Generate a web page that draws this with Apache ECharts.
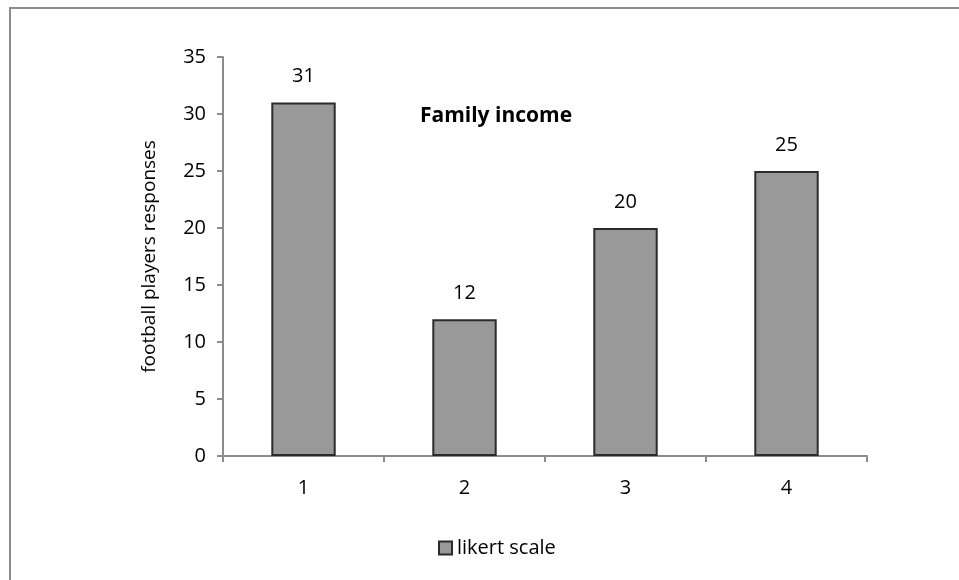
<!DOCTYPE html>
<html>
<head>
<meta charset="utf-8">
<script src="https://cdn.jsdelivr.net/npm/echarts@6/dist/echarts.min.js"></script>
<style>
  html, body { margin: 0; padding: 0; background: #fff; }
  #chart { width: 959px; height: 580px; }
</style>
</head>
<body>
<div id="chart"></div>
<script>
// Survey responses on the likert scale
const categories = ['1', '2', '3', '4'];
const responses = [31, 12, 20, 25];
const yTicks = [0, 5, 10, 15, 20, 25, 30, 35];

const FONT = "'Open Sans', 'Noto Sans', sans-serif";
const chart = echarts.init(document.getElementById('chart'), null, { renderer: 'canvas' });

chart.setOption({
  animation: false,
  backgroundColor: '#ffffff',
  graphic: [{
    type: 'rect',
    shape: { x: 10, y: 8, width: 1000, height: 700 },
    style: { fill: 'none', stroke: '#8c8c8c', lineWidth: 2 },
    silent: true
  }],
  title: {
    text: 'Family income',
    left: 491, top: 111,
    textAlign: 'center', textVerticalAlign: 'middle',
    textStyle: { fontFamily: FONT, fontSize: 21, fontWeight: 'bold', color: '#000' }
  },
  legend: {
    data: ['likert scale'],
    left: 438, top: 538, padding: 0,
    icon: 'rect', itemWidth: 13, itemHeight: 13, itemGap: 6,
    textStyle: { fontFamily: FONT, fontSize: 20, color: '#000' }
  },
  grid: { left: 223, right: 92, top: 57, bottom: 124, containLabel: false },
  xAxis: {
    type: 'category',
    data: categories,
    axisLine: { lineStyle: { color: '#8c8c8c', width: 2 } },
    axisTick: { show: true, length: 6, inside: false, alignWithLabel: false, lineStyle: { color: '#8c8c8c', width: 2 } },
    axisLabel: { fontFamily: FONT, fontSize: 20, color: '#000', margin: 22 }
  },
  yAxis: {
    type: 'value',
    min: yTicks[0], max: yTicks[yTicks.length - 1], interval: 5,
    name: 'football players responses',
    nameLocation: 'middle', nameGap: 64,
    nameTextStyle: { fontFamily: FONT, fontSize: 19, color: '#000' },
    axisLine: { show: true, lineStyle: { color: '#8c8c8c', width: 2 } },
    axisTick: { show: true, length: 6, lineStyle: { color: '#8c8c8c', width: 2 } },
    axisLabel: { fontFamily: FONT, fontSize: 20, color: '#000', margin: 17 },
    splitLine: { show: false }
  },
  series: [{
    name: 'likert scale',
    type: 'bar',
    data: responses,
    barWidth: '40%',
    itemStyle: { color: '#999999', borderColor: '#2b2b2b', borderWidth: 2 },
    label: {
      show: true, position: 'top', distance: 16,
      fontFamily: FONT, fontSize: 20, color: '#000'
    }
  }]
});
</script>
</body>
</html>
